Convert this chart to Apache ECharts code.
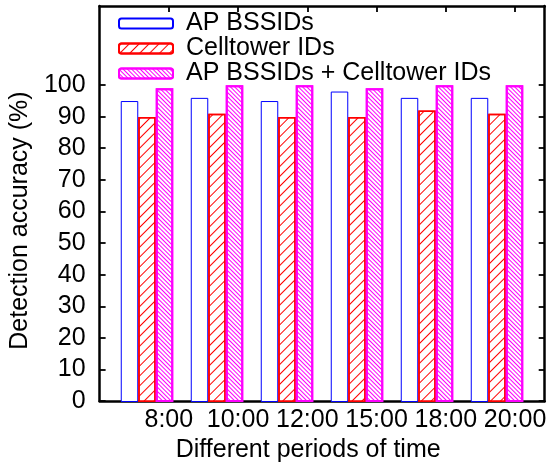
<!DOCTYPE html>
<html>
<head>
<meta charset="utf-8">
<script src="https://cdn.jsdelivr.net/npm/echarts@6/dist/echarts.min.js"></script>
<style>html,body{margin:0;padding:0;background:#fff;}#c{width:549px;height:468px;}</style>
</head>
<body>
<div id="c"></div>
<script>
const categories = ['8:00', '10:00', '12:00', '15:00', '18:00', '20:00'];
const seriesNames = ['AP BSSIDs', 'Celltower IDs', 'AP BSSIDs + Celltower IDs'];
const apBssids = [95, 96, 95, 98, 96, 96];
const celltowerIds = [90, 91, 90, 90, 92, 91];
const combined = [99, 100, 100, 99, 100, 100];
const yTickValues = [0, 10, 20, 30, 40, 50, 60, 70, 80, 90, 100];
const xTickValues = categories.map((c, i) => i);

const FONT = 'Liberation Sans, Arial, Helvetica, sans-serif';
const FS = 25;

const axisLineStyle = { show: true, onZero: false, lineStyle: { color: '#000', width: 2.5 } };
const tickStyle = { show: true, inside: true, length: 6, lineStyle: { color: '#000', width: 1.8 } };

const chart = echarts.init(document.getElementById('c'), null, { renderer: 'canvas' });
chart.setOption({
  animation: false,
  backgroundColor: '#fff',
  grid: [
    // bar area: one 70px band per period
    { left: 112, right: 17, top: 6, bottom: 66, containLabel: false },
    // frame with axes
    { left: 95, right: 4, top: 6, bottom: 66, containLabel: false }
  ],
  legend: {
    orient: 'vertical',
    left: 118,
    top: 11,
    padding: 0,
    itemWidth: 54,
    itemHeight: 10,
    itemGap: 0,
    data: seriesNames,
    textStyle: { fontFamily: FONT, fontSize: FS, color: '#000', lineHeight: 20, padding: [0, 0, 0, 8] },
    selectedMode: false
  },
  xAxis: [
    { type: 'category', gridIndex: 0, data: categories, show: false, boundaryGap: true },
    {
      type: 'value', gridIndex: 1, position: 'bottom', min: -1, max: 5.4286, interval: 1,
      axisLine: axisLineStyle,
      axisTick: Object.assign({ customValues: xTickValues }, tickStyle),
      splitLine: { show: false },
      axisLabel: {
        customValues: xTickValues,
        formatter: v => categories[Math.round(v)] || '',
        fontFamily: FONT, fontSize: FS, color: '#000', margin: 7
      },
      name: 'Different periods of time',
      nameLocation: 'middle',
      nameGap: 33,
      nameTextStyle: { fontFamily: FONT, fontSize: FS, color: '#000', padding: [0, 28, 0, 0] }
    },
    {
      type: 'value', gridIndex: 1, position: 'top', min: -1, max: 5.4286, interval: 1,
      axisLine: axisLineStyle,
      axisTick: Object.assign({ customValues: xTickValues }, tickStyle),
      splitLine: { show: false },
      axisLabel: { show: false }
    }
  ],
  yAxis: [
    { type: 'value', gridIndex: 0, min: 0, max: 125, show: false, splitLine: { show: false } },
    {
      type: 'value', gridIndex: 1, position: 'left', min: 0, max: 125, interval: 25,
      axisLine: axisLineStyle,
      axisTick: Object.assign({ customValues: yTickValues }, tickStyle),
      splitLine: { show: false },
      axisLabel: { customValues: yTickValues, fontFamily: FONT, fontSize: FS, color: '#000', margin: 14 },
      name: 'Detection accuracy (%)',
      nameLocation: 'middle',
      nameGap: 62,
      nameRotate: 90,
      nameTextStyle: { fontFamily: FONT, fontSize: FS, color: '#000', padding: [0, 34, 0, 0] }
    },
    {
      type: 'value', gridIndex: 1, position: 'right', min: 0, max: 125, interval: 25,
      axisLine: axisLineStyle,
      axisTick: Object.assign({ customValues: yTickValues }, tickStyle),
      splitLine: { show: false },
      axisLabel: { show: false }
    }
  ],
  series: [
    {
      name: seriesNames[0], type: 'bar', xAxisIndex: 0, yAxisIndex: 0,
      barWidth: 17.5, barGap: '0%',
      data: apBssids,
      itemStyle: { color: '#fff', borderColor: '#0000ff', borderWidth: 1 }
    },
    {
      name: seriesNames[1], type: 'bar', xAxisIndex: 0, yAxisIndex: 0,
      barWidth: 17.5, barGap: '0%',
      data: celltowerIds,
      itemStyle: {
        color: '#fff', borderColor: '#ff0000', borderWidth: 1.5,
        decal: { symbol: 'rect', symbolSize: 1, color: '#ff0000', dashArrayX: [1, 0], dashArrayY: [1, 6], rotation: -Math.PI / 4 }
      }
    },
    {
      name: seriesNames[2], type: 'bar', xAxisIndex: 0, yAxisIndex: 0,
      barWidth: 17.5, barGap: '0%',
      data: combined,
      itemStyle: {
        color: '#fff', borderColor: '#ff00ff', borderWidth: 2,
        decal: { symbol: 'rect', symbolSize: 1, color: '#ff00ff', dashArrayX: [1, 0], dashArrayY: [1, 2], rotation: Math.PI / 4 }
      }
    }
  ]
});
</script>
</body>
</html>
